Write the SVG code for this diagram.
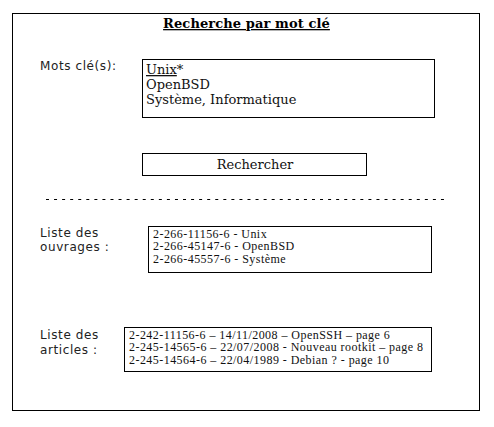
<svg xmlns="http://www.w3.org/2000/svg" width="494" height="427" viewBox="0 0 494 427">
<style>
.frame{fill:#fff;stroke:#000;stroke-width:1}
.box{fill:#fff;stroke:#000;stroke-width:1}
.title{font-family:"DejaVu Serif",serif;font-weight:bold;font-size:13px;letter-spacing:0.1px;text-decoration:underline}
.lbl{font-family:"DejaVu Sans",sans-serif;font-size:12px;letter-spacing:0.6px;fill:#222}
.kw{font-family:"DejaVu Serif",serif;font-size:13px;fill:#111}
.lst{font-family:"Liberation Serif",serif;font-size:12px;letter-spacing:0.45px;fill:#111}
</style>
<rect width="494" height="427" fill="#fff"/>
<g id="form">
<rect class="frame" x="12.5" y="13.5" width="467" height="397"/>
<text class="title" x="246.5" y="28" text-anchor="middle">Recherche par mot clé</text>
</g>
<g id="keywords">
<text class="lbl" x="40" y="70">Mots clé(s):</text>
<rect class="box" x="142.5" y="59.5" width="292" height="58"/>
<text class="kw" x="146" y="74"><tspan text-decoration="underline">Unix</tspan>*</text>
<text class="kw" x="146" y="89">OpenBSD</text>
<text class="kw" x="146" y="104">Système, Informatique</text>
</g>
<g id="search-button">
<rect class="box" x="142.5" y="153.5" width="224" height="22"/>
<text class="kw" x="255" y="169" text-anchor="middle">Rechercher</text>
</g>
<g id="separator">
<line x1="46" y1="199.5" x2="447" y2="199.5" stroke="#000" stroke-width="1" stroke-dasharray="3,5.06"/>
</g>
<g id="books">
<text class="lbl" x="40" y="237">Liste des</text>
<text class="lbl" x="40" y="251">ouvrages :</text>
<rect class="box" x="148.5" y="226.5" width="283" height="46"/>
<text class="lst" x="153" y="237.5">2-266-11156-6 - Unix</text>
<text class="lst" x="153" y="250">2-266-45147-6 - OpenBSD</text>
<text class="lst" x="153" y="262.5">2-266-45557-6 - Système</text>
</g>
<g id="articles">
<text class="lbl" x="40" y="339">Liste des</text>
<text class="lbl" x="40" y="354">articles :</text>
<rect class="box" x="124.5" y="327.5" width="307" height="44"/>
<text class="lst" x="129" y="338.5">2-242-11156-6 – 14/11/2008 – OpenSSH – page 6</text>
<text class="lst" x="129" y="351">2-245-14565-6 – 22/07/2008 - Nouveau rootkit – page 8</text>
<text class="lst" x="129" y="363.5">2-245-14564-6 – 22/04/1989 - Debian ? - page 10</text>
</g>
<g id="connectors"/>
</svg>
